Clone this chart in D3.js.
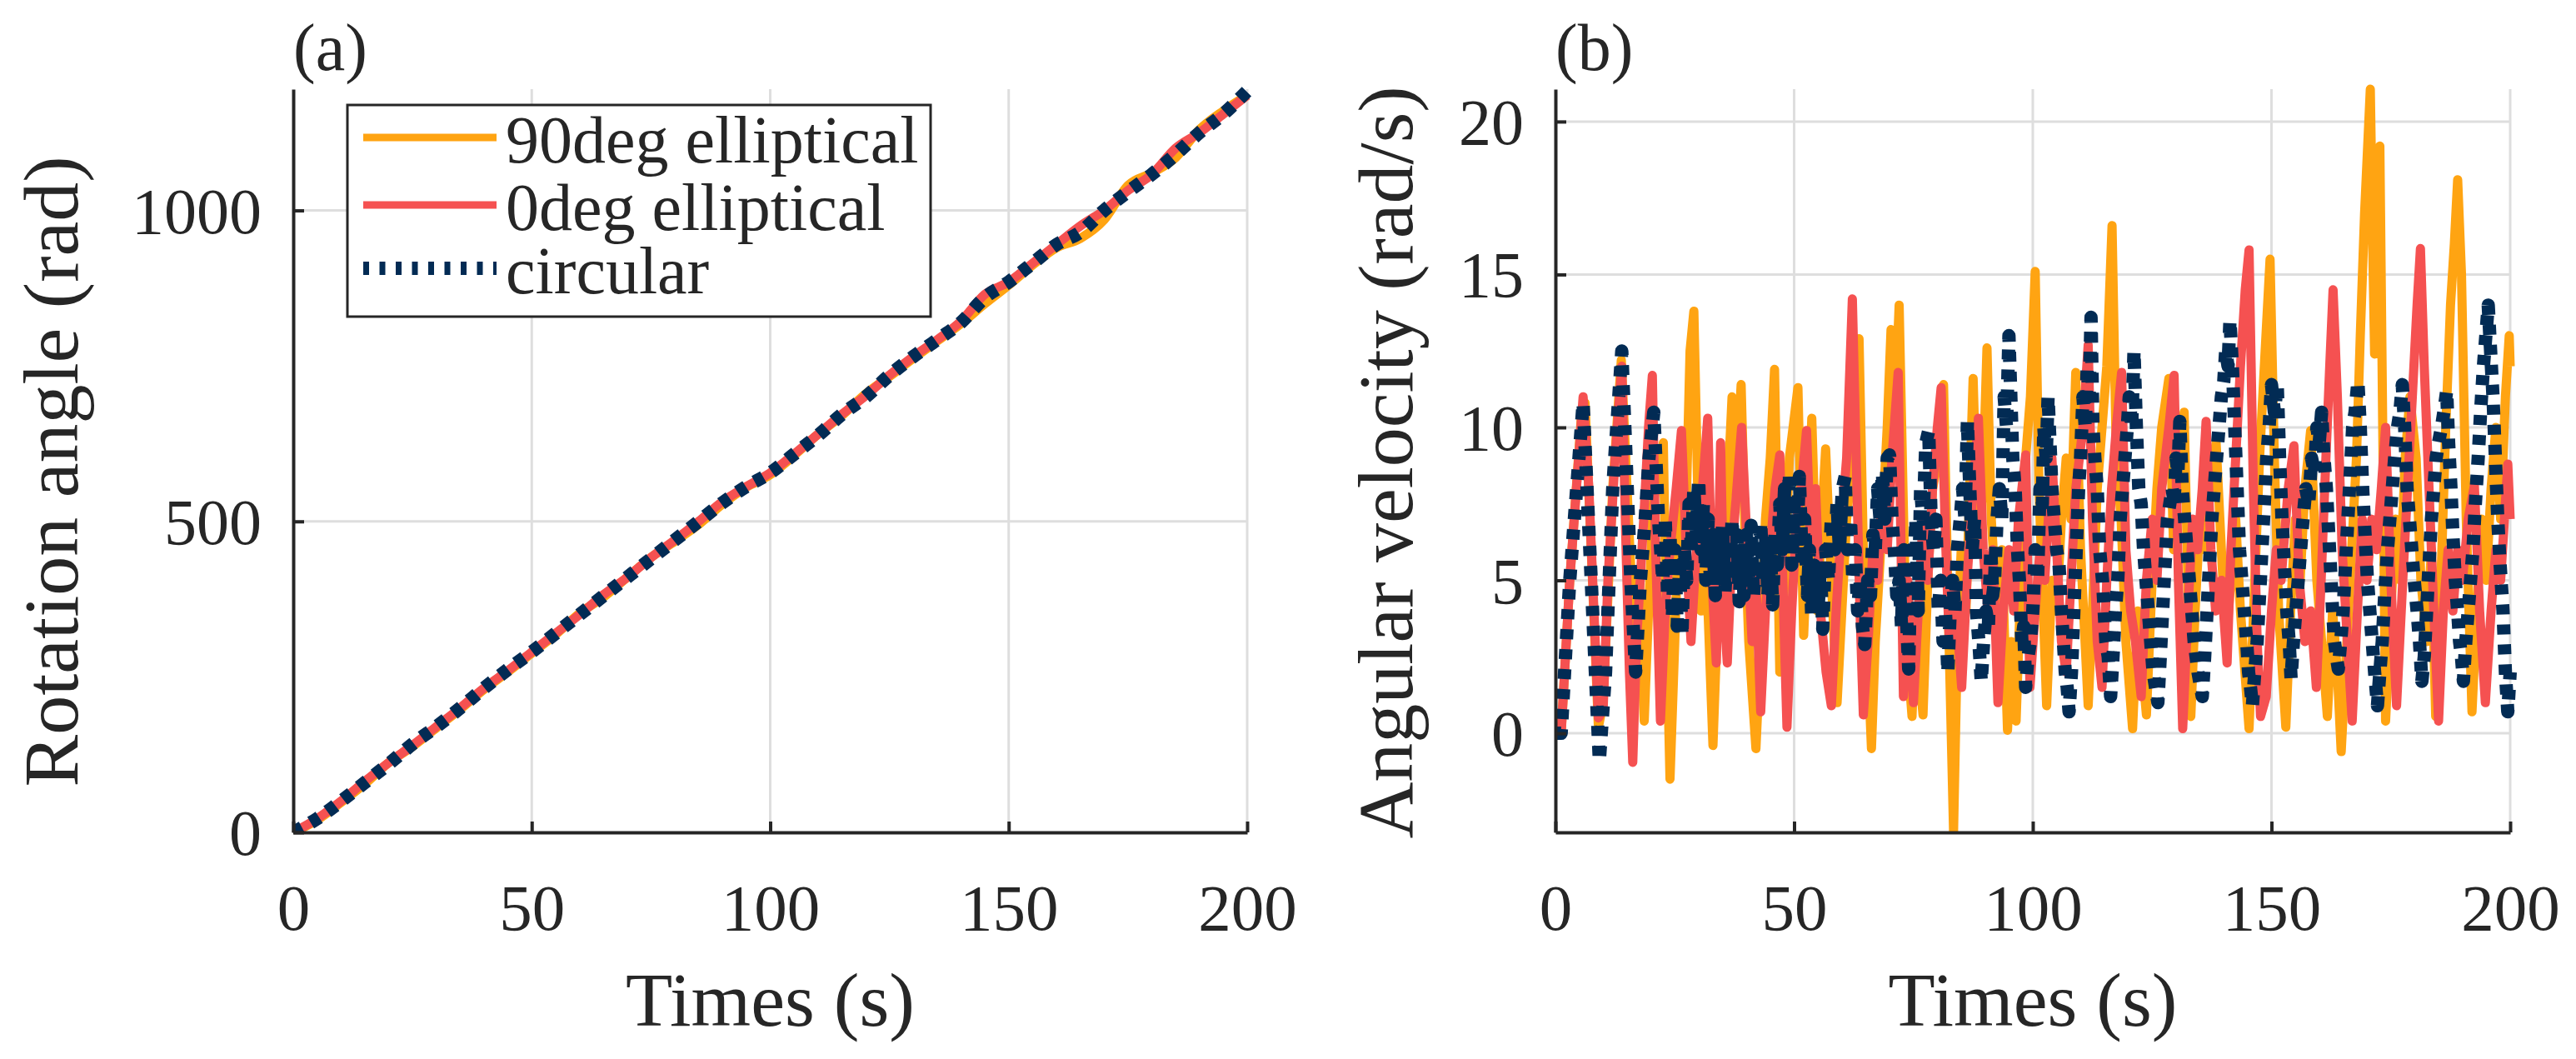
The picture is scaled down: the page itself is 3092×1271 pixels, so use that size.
<!DOCTYPE html>
<html>
<head>
<meta charset="utf-8">
<script src="https://cdn.jsdelivr.net/npm/d3@7"></script>
<style>
  html, body { margin: 0; padding: 0; background: #fff; }
  svg { display: block; }
  text { font-family: "Liberation Serif", "Times New Roman", serif; fill: #262626; }
</style>
</head>
<body>
<div id="chart"></div>
<script>
// ---------------- DATA ----------------
const xTicks = [0, 50, 100, 150, 200];
const angleTicks = [0, 500, 1000];
const velTicks = [0, 5, 10, 15, 20];

const seriesNames = ["90deg elliptical", "0deg elliptical", "circular"];
const seriesColors = ["#ffa412", "#f55151", "#022b54"];

// panel (a): rotation angle, read every 5 s
const tA = [0,5,10,15,20,25,30,35,40,45,50,55,60,65,70,75,80,85,90,95,100,
  105,110,115,120,125,130,135,140,145,150,155,160,165,170,175,180,185,190,195,200];
const angle90 = [0,20,48,78,112,138,168,198,230,258,288,318,352,378,410,442,468,495,528,555,575,
  606,640,670,705,733,762,790,818,850,880,912,940,955,985,1040,1060,1085,1130,1160,1185];
const angle0 = [0,22,50,82,112,140,170,200,232,260,290,320,350,382,410,442,470,500,532,556,578,
  608,640,672,702,735,765,792,822,865,885,915,945,975,1000,1032,1058,1100,1125,1155,1185];
const angleCirc = [0,22,50,80,110,142,170,200,232,262,290,320,350,380,410,440,470,500,530,556,578,
  608,638,672,700,735,765,792,820,860,885,915,945,965,1000,1030,1058,1090,1125,1155,1192];

// panel (b): angular velocity, [time, value]
const vel90 = [[0,0],[1.2,0],[3,5],[5.5,10.5],[6.2,10.8],[7.5,6],[9,0.2],[10,1],[12,8],[13.8,12.2],[15,8],
  [16.5,3],[17.5,5.3],[18.6,0.4],[19.5,4],[20.5,7.5],[22.6,9.5],[23.2,4],[24,-1.5],[25,3],[26,8],[27,5],
  [28.2,12.5],[29,13.8],[29.8,8],[30.5,4],[31.5,6],[33,-0.4],[34,4],[35,8],[35.8,7],[37,11],[37.8,8],
  [38.9,11.4],[39.8,6],[40.5,3],[42,-0.5],[43,3],[44,7],[45,9],[45.9,11.9],[47,2],[48,5],[49,9],[50.8,11.3],
  [52,3.2],[53,7],[53.7,10.3],[54.9,4],[55.8,7],[56.6,9.3],[57.5,6],[59,1],[60,4],[61,7],[62.5,9.5],
  [63.6,12.9],[64.5,6],[66.2,-0.5],[67,3],[68.5,7],[69.5,10],[70.3,13.2],[71,10],[72,14],[72.8,8],[73.5,3],
  [74.7,0.55],[75.5,4],[76.2,2],[77,0.6],[78,5],[79,8],[80.2,9],[81.3,11.4],[82.3,4],[83.4,-3.2],[84.2,3],
  [85,6],[86,4],[87.5,11.6],[88.5,6],[89.5,8],[90.4,12.6],[91.3,7],[92.5,4],[93.5,6],[94.7,0.1],[95.5,3],
  [96.5,0.4],[97.5,5],[98.5,9],[99.5,11],[100.5,15.1],[101.3,8],[102.9,0.9],[104,5],[105,4],[106,7],[107,9],
  [108,7],[109,11.8],[110,6],[111.6,0.9],[112.5,4],[113.5,8],[114.5,10],[115.5,12],[116.6,16.6],[117.5,9],
  [118.5,7],[119.5,3],[120.9,0.15],[122,4],[123,2],[123.8,0.6],[125,5],[126,8],[127,10],[128.5,11.6],
  [129.5,6],[130.5,9],[131.7,10.5],[133.1,0.55],[134,4],[135,7],[136,6],[137,8],[138.4,9.5],[139.5,6],
  [140.5,3],[141.5,5],[142.5,7],[143.5,4],[145.3,0.15],[146.5,5],[147.5,9],[148.5,12],[149.7,15.5],
  [150.6,9],[151.5,4],[153,0.2],[154,4],[155,7],[156,5],[157,8],[158.2,9.9],[159.5,5],[160.5,3],[161.7,0.55],
  [162.8,4],[163.8,2],[164.6,-0.6],[165.8,3],[166.8,6],[167.8,9],[168.6,13],[169.5,17],[170.7,21.06],
  [171.2,16],[171.6,12.4],[172.1,15],[172.7,19.2],[173.3,10],[173.9,0.4],[175,4],[176,7],[177,5],[178,9],
  [179,11],[180.3,9],[181.3,5],[182.5,3],[183.5,6],[184.4,0.55],[185.5,5],[186.5,10],[187.5,14],[188.3,16],
  [189,18.1],[189.8,15],[190.8,7],[192,0.7],[193,4],[194,7],[195,5],[196,8],[197,10],[198,7],[199,11],
  [199.8,13],[200,12]];

const vel0 = [[0,0],[1.2,0],[3,5],[5.8,11],[7,8],[9,0.5],[10,0.8],[11,5],[12.5,9],[13.9,12],[14.8,6],
  [15.5,2],[16.2,-0.95],[17,3],[18.5,7],[19.5,10],[20.3,11.7],[21,6],[22,0.4],[23,4],[24,6],[25.3,8],
  [26.4,9.9],[27.4,6],[28.4,3],[29.5,6],[30.8,8],[31.9,10.3],[32.8,5],[33.7,2.3],[34.6,9.5],[35.3,4],
  [36,2.3],[37,6],[38,8],[39,10],[40.2,6],[41.2,3],[42,5],[43,0.7],[44,4],[45,6],[46,8],[47,9.1],[47.8,4],
  [48.5,0.2],[49.5,4],[50.5,7],[51.5,8],[52.6,9.9],[53.5,6],[54.5,8],[55.5,4],[56.7,2],[57.8,0.9],[58.8,4],
  [60,7],[61,9],[62.2,14.2],[63,9],[63.8,4],[64.5,0.6],[65.5,3],[66.5,6],[67.5,5],[68.5,8],[69.5,6],[70.5,9],
  [71.8,11.8],[72.9,1.2],[73.8,5],[75,1],[76,4],[77,7],[78,5],[79,8],[80,10],[80.8,11.3],[81.8,6],[82.5,3],
  [83.5,5],[85.1,1.5],[86.2,5],[87.5,8],[88.6,10.3],[89.6,6],[90.6,4],[91.6,6],[92.7,1],[93.8,4],[95,6],
  [96,4],[97,7],[98.5,9.1],[99.4,1.5],[100.5,4],[101.5,6],[102.5,5],[104,9],[105,6],[106,3],[107,2],[108,5],
  [109,8],[110.5,10],[111.6,12.7],[112.5,7],[113.5,3],[114.5,1.5],[115.5,5],[116.5,8],[117.5,10],
  [118.6,11.8],[119.5,6],[120.5,4],[121.5,3],[122.7,1.2],[123.8,5],[125,7],[126,5],[127,8],[128.5,10],
  [129.6,11.7],[130.5,5],[131.4,0.15],[132.5,4],[133.5,7],[134.5,6],[135.5,8],[136.3,10.2],[137.3,6],
  [138.3,4],[139.5,5],[140.7,2.3],[141.5,6],[142.5,9],[143.5,12],[144.5,14.5],[145.3,15.8],[146.2,8],[147,3],
  [147.7,0.55],[148.9,1.2],[150,4],[151,6],[152,5],[153.5,8],[154.7,9.4],[155.8,5],[157,3],[158.2,4],
  [159.4,1.5],[160.4,5],[161.4,9],[162.2,12],[162.9,14.5],[163.8,11],[164.8,6],[165.9,3],[166.9,0.4],[168,4],
  [169,7],[170,5],[171,7],[172,6],[173,8],[173.9,10],[175,5],[176.2,0.9],[177.5,5],[178.5,8],[179.5,11],
  [180.5,14],[181.2,15.85],[182,12],[183,8],[184,4],[185,0.4],[186,4],[187,6],[188,4],[189,6],[190,5],
  [191.2,7],[192.5,8.1],[193.6,4],[194.8,1],[196,4],[197,6],[198,5],[199.5,8.8],[200,7]];

const velCirc = [[0,0],[1.2,0],[3,5],[5.8,10.8],[7.5,5],[9.2,-0.9],[10.5,2],[12,8],[13.9,12.5],[14.8,9],
  [15.8,5],[16.8,2],[17.8,5],[18.8,7],[19.6,9],[20.6,10.5],[21.6,7],[22.5,5],[23,7],[23.5,4.5],[24,6.5],
  [24.5,3.8],[25,6],[25.5,3.5],[26,5.5],[26.5,3.2],[27,6],[27.5,5],[28,7.5],[28.5,6],[29,8],[29.5,6.5],
  [30,8.3],[30.5,6],[31,7.5],[31.5,5],[32,7],[32.5,4.8],[33,6.5],[33.5,4.5],[34,6.5],[34.5,5],[35,6.8],
  [35.5,4.6],[36,6],[36.5,5],[37,7],[37.5,5],[38,6.5],[38.5,4.3],[39,6],[39.5,4.5],[40,6.5],[40.5,5],
  [41,6.8],[41.5,4.5],[42,6],[42.5,5],[43,6.9],[43.5,5],[44,6.5],[44.5,4.5],[45,6],[45.5,4.2],[46,6.5],
  [46.5,5.5],[47,7.5],[47.5,6],[48,8],[48.5,6.5],[49,8.5],[49.5,5.5],[50,7.5],[50.5,6],[51.1,8.4],
  [51.7,5.5],[52.2,7],[52.8,4.5],[53.2,6],[53.7,3.8],[54.2,5.5],[55,4],[55.5,5.5],[56,3.4],[56.6,6],
  [57.2,5],[57.8,7],[58.5,6],[59,7.5],[59.5,6],[60.1,8],[60.7,8.4],[61.2,6],[61.8,7],[62.3,5],[62.8,6],
  [63.3,4],[63.8,5],[64.3,3.5],[64.8,2.9],[65.4,5],[66,4.5],[66.5,6.5],[67,6],[67.5,8],[68,7],[68.5,8.5],
  [69,7],[69.5,9],[70,9.1],[70.5,7],[71,6],[71.5,4.5],[72,5],[72.5,3.5],[73,6],[73.5,4],[74,2.1],[74.5,6],
  [75,5],[75.5,7],[76,4],[76.5,8],[77,7],[77.6,9.5],[78.2,9.9],[78.7,7],[79.2,6],[79.7,7],[80.2,4],[80.7,5],
  [81.2,3],[81.7,4],[82.2,2],[82.7,4],[83.2,5],[83.7,4],[84.2,6],[84.8,7],[85.3,8],[85.8,7],[86.3,10.2],
  [86.8,8],[87.3,6],[87.8,7],[88.2,4],[88.7,3],[89.2,1.7],[89.7,3],[90.2,4],[90.7,3.5],[91.2,6],[91.6,4.5],
  [92,5],[92.5,7],[93,8],[93.5,7],[94,11],[94.5,10],[95,13],[95.4,11],[95.8,9],[96.3,8],[96.8,6],[97.2,5],
  [97.7,3],[98.1,3.5],[98.5,1.5],[99,2.5],[99.5,3],[100,4],[100.5,6],[101,5],[101.5,8],[102,7.5],[102.3,10],
  [102.8,9],[103.2,11],[103.6,9.5],[104,8],[104.5,7],[105,6],[105.5,5.5],[106,4],[106.4,3],[106.8,2],
  [107.2,1.5],[107.6,0.7],[108.1,2],[108.6,4],[109.1,6],[109.6,8],[110,9],[110.5,11],[111,10],[111.4,12],
  [111.8,11],[112.2,13.6],[112.6,10],[113,9],[113.5,8],[114,6],[114.6,5],[115.3,3],[115.8,2.5],[116.3,1.2],
  [116.8,2.5],[117.3,4],[117.8,5],[118.3,7],[118.8,8],[119.3,9],[119.8,10],[120.2,11],[120.7,10],
  [121.2,12.5],[121.7,10],[122.2,8],[122.7,7.5],[123.2,6],[123.7,5],[124.2,4],[124.7,3],[125.2,2],
  [125.7,1.5],[126.2,1],[126.7,2.5],[127.2,4],[127.7,5.5],[128.2,7],[128.7,7.5],[129.2,8],[129.6,7.5],
  [130,9],[130.4,8.5],[130.8,10.2],[131.3,8],[131.8,7],[132.3,6],[132.8,5],[133.3,4],[133.8,3],[134.6,2],
  [135.5,1.2],[136,2.5],[136.5,4],[137,5.5],[137.5,7],[138,8],[138.5,9],[139,10],[139.5,11],[140,11.5],
  [140.4,12.5],[140.9,12],[141.3,13.5],[141.8,12],[142.3,10],[142.8,8],[143.3,6],[143.8,5],[144.3,4],
  [144.8,3],[145.2,2],[145.6,1.5],[146,0.9],[146.5,2],[147,3],[147.5,4.5],[148,6],[148.5,7.5],[149,9],
  [149.5,10],[150,11.4],[150.6,10.5],[151.2,11.4],[151.7,9],[152.2,7],[152.7,5.5],[153.2,4],[153.7,3],
  [154.1,1.8],[154.6,3],[155.1,4],[155.6,5],[156.1,6],[156.6,7],[157.2,8],[157.8,7.5],[158.4,9],[159,8.5],
  [159.5,10],[160,9.5],[160.5,10.5],[161,9],[161.5,8],[162,6.5],[162.5,5],[162.8,4],[163.2,3],[163.6,2.5],
  [164,2.1],[164.5,3],[165,4],[165.5,5.5],[166,7],[166.5,8.5],[167,10],[167.5,10.5],[168.1,11.5],
  [168.6,10],[169.1,8],[169.6,6.5],[170.1,5],[170.6,4],[171.1,3],[171.6,2],[172.2,0.9],[172.7,2],
  [173.2,3],[173.7,4.5],[174.3,6],[174.8,7],[175.3,8],[175.8,9],[176.4,10],[176.9,10.5],[177.4,11.4],
  [177.9,10],[178.4,8],[178.9,7],[179.4,6],[179.9,5],[180.5,4],[181,3],[181.5,1.7],[182,2.5],[182.5,4],
  [183,5.5],[183.5,7],[184,8],[184.5,9],[185,9.5],[185.6,10],[186.1,10.5],[186.7,11.2],[187.1,9.5],
  [187.6,8],[188,6.5],[188.5,5],[189,4],[189.4,3],[189.8,2.5],[190.2,1.7],[190.7,3],[191.2,4],[191.7,5],
  [192.2,6],[192.7,7.5],[193.3,9],[193.8,10.5],[194.4,12],[194.9,13],[195.4,14],[195.9,12.5],[196.4,11],
  [196.9,9],[197.4,7],[197.9,5.5],[198.5,4],[199,2],[199.5,0.7],[200,2]];

// ---------------- LAYOUT ----------------
const W = 3092, H = 1271;
const plotTop = 107, plotBottom = 999;
const axisColor = "#262626";
const gridColor = "#dedede";
const fontFamily = "'Liberation Serif', 'Times New Roman', serif";

const svg = d3.select("#chart").append("svg")
  .attr("width", W).attr("height", H)
  .attr("viewBox", `0 0 ${W} ${H}`);
svg.append("rect").attr("width", W).attr("height", H).attr("fill", "#fff");

function drawPanel(opts) {
  const x = d3.scaleLinear().domain([0, 200]).range([opts.left, opts.right]);
  const y = d3.scaleLinear().domain(opts.yDomain).range([plotBottom, plotTop]);
  const g = svg.append("g");

  // grid
  g.selectAll(".vgrid").data(xTicks.filter(d => d > 0)).enter().append("line")
    .attr("x1", d => x(d)).attr("x2", d => x(d))
    .attr("y1", plotTop).attr("y2", plotBottom)
    .attr("stroke", gridColor).attr("stroke-width", 3);
  g.selectAll(".hgrid").data(opts.yTicks.filter(d => y(d) < plotBottom - 2)).enter().append("line")
    .attr("x1", opts.left).attr("x2", opts.right)
    .attr("y1", d => y(d)).attr("y2", d => y(d))
    .attr("stroke", gridColor).attr("stroke-width", 3);

  // lines
  const clipId = "clip" + opts.id;
  svg.append("clipPath").attr("id", clipId).append("rect")
    .attr("x", opts.left).attr("y", plotTop - 10)
    .attr("width", opts.right - opts.left + 10).attr("height", plotBottom - plotTop + 10);
  const lines = g.append("g").attr("clip-path", `url(#${clipId})`);
  opts.series.forEach((s, i) => {
    const line = d3.line().x(d => x(d[0])).y(d => y(d[1])).curve(opts.curve);
    const p = lines.append("path").datum(s)
      .attr("d", line)
      .attr("fill", "none")
      .attr("stroke", seriesColors[i])
      .attr("stroke-linejoin", "round");
    if (i === 2) {
      p.attr("stroke-width", 16).attr("stroke-dasharray", "12 12");
    } else {
      p.attr("stroke-width", 11);
    }
  });

  // axes
  const xAxis = g.append("g")
    .attr("transform", `translate(0,${plotBottom})`)
    .call(d3.axisBottom(x).tickValues(xTicks).tickFormat(d3.format("d"))
      .tickSizeInner(-13).tickSizeOuter(0));
  xAxis.select(".domain").attr("stroke", axisColor).attr("stroke-width", 4);
  xAxis.selectAll(".tick line").attr("stroke", axisColor).attr("stroke-width", 4);
  xAxis.selectAll("text")
    .attr("y", 117).attr("dy", null)
    .style("font-family", fontFamily)
    .style("font-size", "79px").style("fill", axisColor);

  const yAxis = g.append("g")
    .attr("transform", `translate(${opts.left},0)`)
    .call(d3.axisLeft(y).tickValues(opts.yTicks).tickFormat(d3.format("d"))
      .tickSizeInner(-13).tickSizeOuter(0));
  yAxis.select(".domain").attr("stroke", axisColor).attr("stroke-width", 4);
  yAxis.selectAll(".tick line").attr("stroke", axisColor).attr("stroke-width", 4);
  yAxis.selectAll("text")
    .attr("x", -38).attr("dy", "0.34em")
    .style("font-family", fontFamily)
    .style("font-size", "78px").style("fill", axisColor);

  // labels
  g.append("text")
    .attr("x", (opts.left + opts.right) / 2).attr("y", 1231)
    .attr("text-anchor", "middle")
    .style("font-size", "92px")
    .text("Times (s)");
  g.append("text")
    .attr("transform", `translate(${opts.yLabelX},${opts.yLabelY}) rotate(-90)`)
    .attr("text-anchor", "middle")
    .style("font-size", "94px")
    .text(opts.yLabel);
  g.append("text")
    .attr("x", opts.left).attr("y", 84)
    .style("font-size", "80px")
    .text(opts.tag);

  return g;
}

const panelA = drawPanel({
  id: "a", left: 352, right: 1497, yDomain: [0, 1195], yTicks: angleTicks,
  series: [tA.map((t, i) => [t, angle90[i]]), tA.map((t, i) => [t, angle0[i]]), tA.map((t, i) => [t, angleCirc[i]])],
  curve: d3.curveMonotoneX,
  yLabel: "Rotation angle (rad)", yLabelX: 93, yLabelY: 566, tag: "(a)"
});

drawPanel({
  id: "b", left: 1867, right: 3013, yDomain: [-3.24, 21.06], yTicks: velTicks,
  series: [vel90, vel0, velCirc],
  curve: d3.curveLinear,
  yLabel: "Angular velocity (rad/s)", yLabelX: 1695, yLabelY: 555, tag: "(b)"
});

// ---------------- LEGEND ----------------
const legend = panelA.append("g").attr("transform", "translate(417,126)");
legend.append("rect")
  .attr("width", 700).attr("height", 254)
  .attr("fill", "#fff").attr("stroke", axisColor).attr("stroke-width", 3);
const rowY = [39, 120, 196];
seriesNames.forEach((name, i) => {
  const l = legend.append("line")
    .attr("x1", 19).attr("x2", 179)
    .attr("y1", rowY[i]).attr("y2", rowY[i])
    .attr("stroke", seriesColors[i]);
  if (i === 2) l.attr("stroke-width", 16).attr("stroke-dasharray", "7 12.5");
  else l.attr("stroke-width", 9);
  legend.append("text")
    .attr("x", 190).attr("y", rowY[i] + 30)
    .style("font-size", "80px")
    .text(name);
});
</script>
</body>
</html>
